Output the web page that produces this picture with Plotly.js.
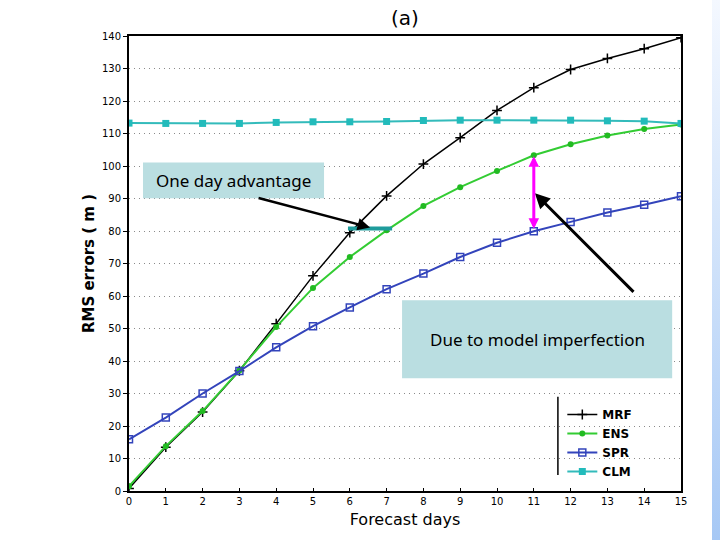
<!DOCTYPE html>
<html>
<head>
<meta charset="utf-8">
<script src="https://cdn.plot.ly/plotly-3.0.1.min.js"></script>
<style>
html,body{margin:0;padding:0;background:#fff;}
#chart{width:720px;height:540px;position:absolute;left:0;top:0;}
#stripe{position:absolute;left:712px;top:0;width:8px;height:540px;
 background:linear-gradient(to bottom,#f4f8ff 0%,#d6e6fb 40%,#a6c8f5 100%);pointer-events:none;}
</style>
</head>
<body>
<div id="chart"></div>
<div id="stripe"></div>
<script>
// ---- data ----
const days = [0,1,2,3,4,5,6,7,8,9,10,11,12,13,14,15];
const mrf = [0.8,13.5,24.3,37.0,51.5,66.2,79.5,90.8,100.6,108.7,117.1,124.1,129.7,133.1,136.1,139.5];
const ens = [1.5,13.8,24.6,37.1,50.5,62.5,72.0,80.2,87.7,93.5,98.5,103.3,106.7,109.4,111.4,112.8];
const spr = [15.9,22.6,30.0,36.9,44.2,50.7,56.5,62.1,66.9,72.0,76.4,79.9,82.8,85.7,88.1,90.7];
const clm = [113.2,113.1,113.1,113.1,113.4,113.6,113.6,113.7,114.0,114.1,114.1,114.1,114.1,113.9,113.8,113.1];
const seriesNames = ["MRF","ENS","SPR","CLM"];
const yTicks = [0,10,20,30,40,50,60,70,80,90,100,110,120,130,140];
const xTicks = days;

const font = "DejaVu Sans, sans-serif";
const boxFill = "#badee1";

const traces = [
 {x:days,y:mrf,name:seriesNames[0],mode:"lines+markers",
  line:{color:"#000000",width:1.5},
  marker:{symbol:"cross-thin",size:7,color:"#000000",line:{color:"#000000",width:1.5}}},
 {x:days,y:ens,name:seriesNames[1],mode:"lines+markers",
  line:{color:"#33cc33",width:2},
  marker:{symbol:"circle",size:6,color:"#22bb22"}},
 {x:days,y:spr,name:seriesNames[2],mode:"lines+markers",
  line:{color:"#3344bb",width:2},
  marker:{symbol:"square-open",size:7,color:"#3344bb",line:{color:"#3344bb",width:1.5}}},
 {x:days,y:clm,name:seriesNames[3],mode:"lines+markers",
  line:{color:"#33bbbb",width:2},
  marker:{symbol:"square",size:7,color:"#22bbbb"}}
];

const layout = {
 width:720,height:540,
 margin:{l:129,r:39,t:36,b:49},
 paper_bgcolor:"rgba(0,0,0,0)",plot_bgcolor:"#ffffff",
 showlegend:true,
 legend:{x:0.785,y:0.2,xanchor:"left",yanchor:"top",
  font:{family:font,size:12,color:"#000",weight:"bold"},bgcolor:"rgba(255,255,255,0)",
  itemwidth:30,tracegroupgap:0},
 title:{text:"(a)",x:0.5,xref:"paper",xanchor:"center",y:0.967,yref:"container",yanchor:"middle",
  font:{family:font,size:20,color:"#000"}},
 xaxis:{range:[0,15],tickvals:xTicks,ticktext:xTicks.map(String),
  showgrid:false,zeroline:false,showline:true,linecolor:"#000",linewidth:2,mirror:true,
  ticks:"inside",ticklen:3,tickcolor:"#000",
  tickfont:{family:font,size:10,color:"#000"},
  title:{text:"Forecast days",font:{family:font,size:16,color:"#000"},standoff:8}},
 yaxis:{range:[0,140],tickvals:yTicks,ticktext:yTicks.map(String),
  showgrid:true,gridcolor:"#8a8a8a",griddash:"1px,4px",gridwidth:1,
  zeroline:false,showline:true,linecolor:"#000",linewidth:2,mirror:true,
  ticks:"outside",ticklen:4,tickcolor:"#000",
  tickfont:{family:font,size:10,color:"#000"},
  title:{text:"RMS errors ( m )",font:{family:font,size:15,color:"#000",weight:"bold"},standoff:4}},
 shapes:[
  {type:"rect",xref:"x",yref:"y",x0:0.38,x1:5.3,y0:90.1,y1:101.1,fillcolor:boxFill,line:{width:0}},
  {type:"rect",xref:"x",yref:"y",x0:7.42,x1:14.76,y0:34.7,y1:58.7,fillcolor:boxFill,line:{width:0}},
  {type:"line",xref:"x",yref:"y",x0:5.95,x1:7.15,y0:80.8,y1:80.8,line:{color:"#1e9c9c",width:4}},
  {type:"line",xref:"paper",yref:"paper",x0:0.777,x1:0.777,y0:0.035,y1:0.207,line:{color:"#000",width:1.5}}
 ],
 annotations:[
  {xref:"x",yref:"y",x:2.83,y:95.5,text:"One day advantage",showarrow:false,
   font:{family:"Noto Sans, sans-serif",size:17,color:"#000"}},
  {xref:"x",yref:"y",x:11.09,y:46.5,text:"Due to model imperfection",showarrow:false,
   font:{family:"Noto Sans, sans-serif",size:17,color:"#000"}},
  {xref:"x",yref:"y",axref:"x",ayref:"y",x:6.55,y:81.1,ax:3.48,ay:90.3,text:"",
   showarrow:true,arrowhead:2,arrowsize:1,arrowwidth:2.5,arrowcolor:"#000"},
  {xref:"x",yref:"y",axref:"x",ayref:"y",x:11.03,y:91.6,ax:13.75,ay:60.8,text:"",
   showarrow:true,arrowhead:2,arrowsize:1,arrowwidth:3,arrowcolor:"#000"},
  {xref:"x",yref:"y",axref:"x",ayref:"y",x:11.0,y:103.0,ax:11.0,ay:80.2,text:"",
   showarrow:true,arrowhead:2,startarrowhead:2,arrowside:"end+start",arrowsize:0.7,startarrowsize:0.7,arrowwidth:3,arrowcolor:"#ff00ff"}
 ]
};

Plotly.newPlot("chart",traces,layout,{displayModeBar:false,staticPlot:true});
</script>
</body>
</html>
